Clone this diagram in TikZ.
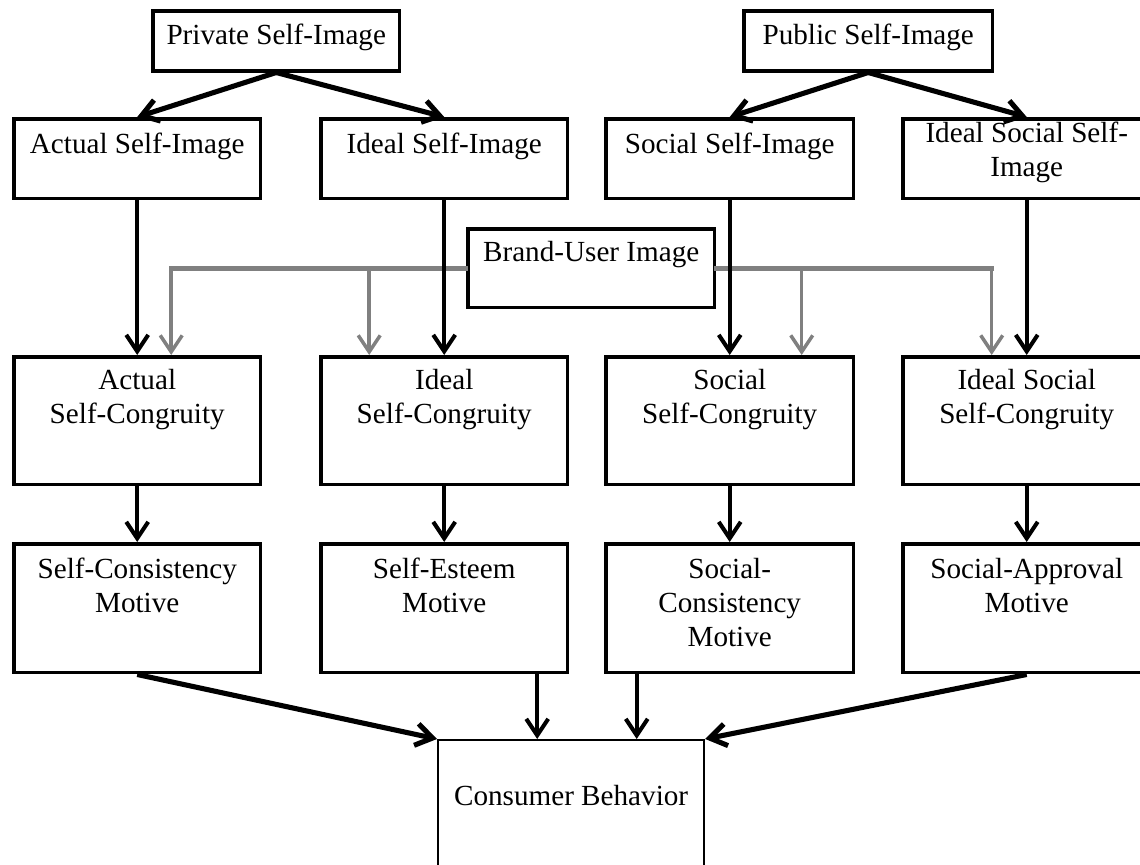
\documentclass[tikz,border=0pt]{standalone}
\usepackage{fontspec}
\setmainfont{Liberation Serif}
\usepackage{tikz}
\usetikzlibrary{arrows.meta, calc}
\definecolor{LinkGray}{HTML}{808080}
\newcommand{\boxtxt}[4][0.68cm]{\parbox[t][#3][t]{#2}{\centering\rule{0pt}{#1}#4}}
\tikzset{
    card/.style={draw, line width=2pt, inner sep=0pt, anchor=north west, font=\fontsize{16.6}{19.35}\selectfont},
    link/.style={-{Straight Barb[length=3.3mm, width=4.4mm]}, line width=2.3pt},
    slant/.style={link, line width=2.9pt},
    brand/.style={-{Straight Barb[length=3.3mm, width=4.4mm]}, line width=2pt, color=LinkGray},
    brandline/.style={line width=2.6pt, color=LinkGray, line cap=rect}
}

\begin{document}
\begin{tikzpicture}[x=0.02cm, y=-0.02cm]
            \useasboundingbox (0,0) rectangle (1140,865);
            % self-images
            \node[card] (priv) at (151,9) {\boxtxt{4.94cm}{1.2cm}{Private Self-Image}};
            \node[card] (publ) at (742,9) {\boxtxt{4.98cm}{1.2cm}{Public Self-Image}};
            \node[card] (actimg) at (12,117) {\boxtxt[0.7cm]{4.94cm}{1.6cm}{Actual Self-Image}};
            \node[card] (idimg) at (319,117) {\boxtxt[0.7cm]{4.94cm}{1.6cm}{Ideal Self-Image}};
            \node[card] (socimg) at (604,117) {\boxtxt[0.7cm]{4.96cm}{1.6cm}{Social Self-Image}};
            \node[card] (idsimg) at (901,117) {\boxtxt[0.48cm]{4.96cm}{1.6cm}{Ideal Social Self-\\Image}};
            \node[card] (brand) at (466,227) {\boxtxt[0.66cm]{4.94cm}{1.58cm}{Brand-User Image}};
            % congruity
            \node[card] (actcon) at (12,355) {\boxtxt[0.66cm]{4.94cm}{2.56cm}{Actual\\Self-Congruity}};
            \node[card] (idcon) at (319,355) {\boxtxt[0.66cm]{4.94cm}{2.56cm}{Ideal\\Self-Congruity}};
            \node[card] (soccon) at (604,355) {\boxtxt[0.66cm]{4.96cm}{2.56cm}{Social\\Self-Congruity}};
            \node[card] (idscon) at (901,355) {\boxtxt[0.66cm]{4.96cm}{2.56cm}{Ideal Social\\Self-Congruity}};
            % motives
            \node[card] (consmot) at (12,542) {\boxtxt[0.7cm]{4.94cm}{2.58cm}{Self-Consistency\\Motive}};
            \node[card] (estmot) at (319,542) {\boxtxt[0.7cm]{4.94cm}{2.58cm}{Self-Esteem\\Motive}};
            \node[card] (socmot) at (604,542) {\boxtxt[0.7cm]{4.96cm}{2.58cm}{Social-\\Consistency\\Motive}};
            \node[card] (apmot) at (901,542) {\boxtxt[0.7cm]{4.96cm}{2.58cm}{Social-Approval\\Motive}};
            \node[card, line width=1.3pt] (cb) at (437,739) {\boxtxt[1.3cm]{5.32cm}{3.4cm}{Consumer Behavior}};

            % top split
            \draw[slant] (priv.south) -- (actimg.north);
            \draw[slant] (priv.south) -- (idimg.north);
            \draw[slant] (publ.south) -- (socimg.north);
            \draw[slant] (publ.south) -- (idsimg.north);

            % brand-user feed
            \coordinate (g1) at ($(actcon.north)+(34,0)$);
            \coordinate (g2) at ($(idcon.north)+(-75,0)$);
            \coordinate (g3) at ($(soccon.north)+(72,0)$);
            \coordinate (g4) at ($(idscon.north)+(-35,0)$);
            \draw[brandline] (brand.west) -- (brand.west -| g1);
            \draw[brandline] (brand.east) -- (brand.east -| g4);
            \draw[brand] (brand.west -| g1) -- (g1);
            \draw[brand] (brand.west -| g2) -- (g2);
            \draw[brand] (brand.east -| g3) -- (g3);
            \draw[brand] (brand.east -| g4) -- (g4);

            % image -> congruity -> motive
            \draw[link] (actimg.south) -- (actcon.north);
            \draw[link] (idimg.south) -- (idcon.north);
            \draw[link] (socimg.south) -- (soccon.north);
            \draw[link] (idsimg.south) -- (idscon.north);
            \draw[link] (actcon.south) -- (consmot.north);
            \draw[link] (idcon.south) -- (estmot.north);
            \draw[link] (soccon.south) -- (socmot.north);
            \draw[link] (idscon.south) -- (apmot.north);

            % motives -> behavior
            \coordinate (e1) at ($(estmot.south)+(93,0)$);
            \coordinate (e2) at ($(socmot.south)+(-93,0)$);
            \draw[slant] (consmot.south) -- (cb.north west);
            \draw[link] (e1) -- (e1 |- cb.north);
            \draw[link] (e2) -- (e2 |- cb.north);
            \draw[slant] (apmot.south) -- (cb.north east);
        \end{tikzpicture}
\end{document}
